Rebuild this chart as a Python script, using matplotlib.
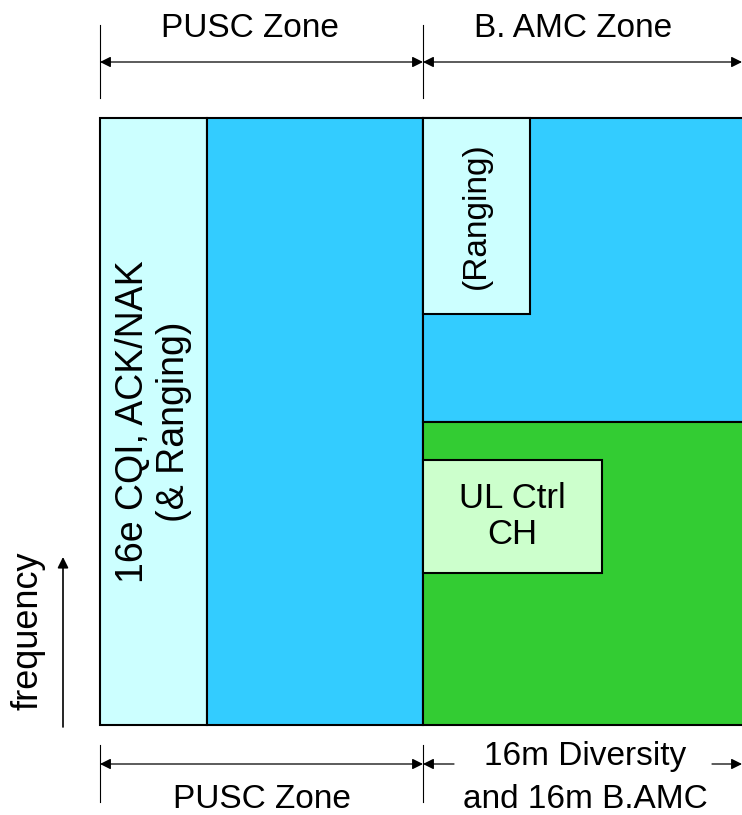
import matplotlib.pyplot as plt
from matplotlib.patches import Rectangle

plt.rcParams['font.family'] = ['Liberation Sans', 'DejaVu Sans']

# blocks in picture units (time across, frequency down the page)
block_names = ['16e CQI, ACK/NAK\n(& Ranging)', '', '', '', '(Ranging)', 'UL Ctrl\nCH']
block_x0 = [100, 207, 423, 423, 423, 423]
block_x1 = [207, 423, 745, 745, 530, 602]
block_y0 = [118, 118, 118, 422, 118, 460]
block_y1 = [725, 725, 422, 725, 314, 573]
block_col = ['#ccffff', '#33ccff', '#33ccff', '#33cc33', '#ccffff', '#ccffcc']
block_rot = [90, 0, 0, 0, 90, 0]
block_fs = [27, 0, 0, 0, 24, 25]
block_ls = [1.2, 1, 1, 1, 1, 1.1]

top_zones = ['PUSC Zone', 'B. AMC Zone']
bottom_zones = ['PUSC Zone', '16m Diversity\nand 16m B.AMC']
zone_edges = [100, 423, 742]

fig = plt.figure(figsize=(7.42, 8.15), dpi=100)
ax = fig.add_axes([0, 0, 1, 1])
ax.set_xlim(0, 742)
ax.set_ylim(815, 0)
ax.axis('off')

for name, x0, x1, y0, y1, c, rot, fs, ls in zip(block_names, block_x0, block_x1,
                                                block_y0, block_y1, block_col,
                                                block_rot, block_fs, block_ls):
    ax.add_patch(Rectangle((x0, y0), x1 - x0, y1 - y0, facecolor=c,
                           edgecolor='black', linewidth=1.5))
    if name:
        ax.text((x0 + x1) / 2, (y0 + y1) / 2, name, rotation=rot,
                ha='center', va='center', fontsize=fs, linespacing=ls)

head = dict(color='black', lw=0.9, mutation_scale=16, shrinkA=0, shrinkB=0)

# top dimension lines
for x in zone_edges[:2]:
    ax.plot([x, x], [25, 98], color='black', lw=0.8)
for i in range(2):
    ax.annotate('', xy=(zone_edges[i], 62), xytext=(zone_edges[i + 1], 62),
                arrowprops=dict(arrowstyle='<|-|>', **head))
ax.text(250, 37, top_zones[0], ha='center', va='baseline', fontsize=24)
ax.text(573, 37, top_zones[1], ha='center', va='baseline', fontsize=24)

# bottom dimension lines
for x in zone_edges[:2]:
    ax.plot([x, x], [745, 802], color='black', lw=0.8)
ax.annotate('', xy=(zone_edges[0], 764), xytext=(zone_edges[1], 764),
            arrowprops=dict(arrowstyle='<|-|>', **head))
ax.text(262, 808, bottom_zones[0], ha='center', va='baseline', fontsize=24)
ax.annotate('', xy=(zone_edges[1], 764), xytext=(454, 764),
            arrowprops=dict(arrowstyle='-|>', **head))
ax.annotate('', xy=(zone_edges[2], 764), xytext=(712, 764),
            arrowprops=dict(arrowstyle='-|>', **head))
for j, line in enumerate(bottom_zones[1].split('\n')):
    ax.text(585, 765 + 43 * j, line, ha='center', va='baseline', fontsize=24)

# frequency axis
ax.annotate('', xy=(63, 557), xytext=(63, 727),
            arrowprops=dict(arrowstyle='-|>', color='black', lw=1.2,
                            mutation_scale=16, shrinkA=0, shrinkB=0))
ax.text(28, 631, 'frequency', rotation=90, ha='center', va='center',
        fontsize=26)

fig.savefig('out.png', dpi=100)
